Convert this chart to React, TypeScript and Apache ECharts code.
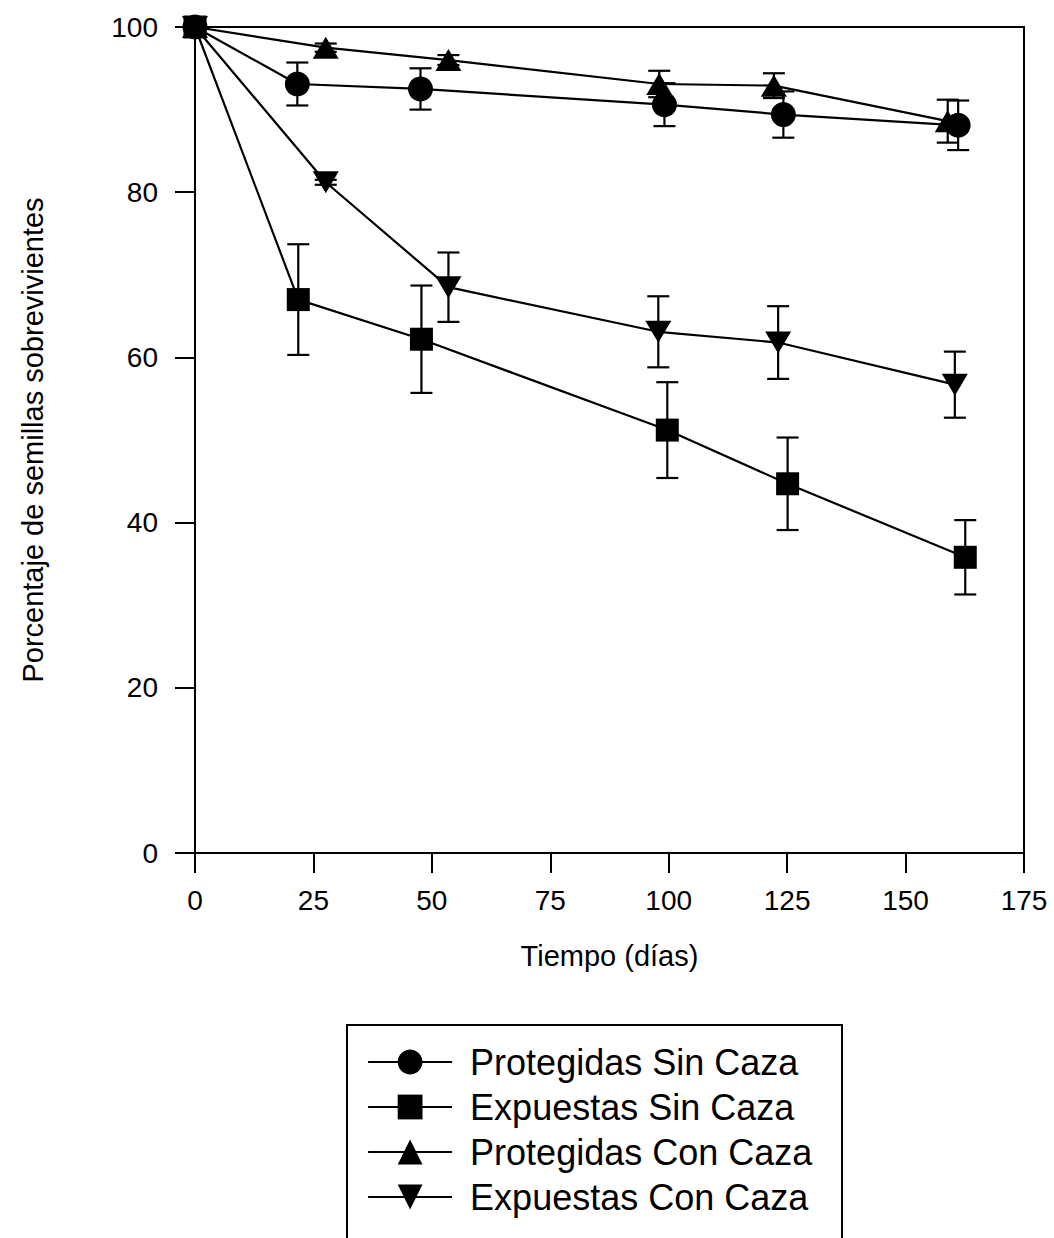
import React, { useEffect, useRef } from "react";
import * as echarts from "echarts";

const seriesNames = [
  "Protegidas Sin Caza",
  "Expuestas Sin Caza",
  "Protegidas Con Caza",
  "Expuestas Con Caza",
];

// Days (x) per series (points are slightly offset in the original)
const xProtSin = [0, 21.6, 47.6, 99.1, 124.2, 161.1];
const xExpSin = [0, 21.8, 47.8, 99.7, 125.1, 162.6];
const xProtCon = [0, 27.6, 53.5, 98.0, 122.2, 158.9];
const xExpCon = [0, 27.6, 53.5, 97.8, 123.1, 160.4];

// Mean % surviving seeds
const yProtSin = [100, 93.1, 92.5, 90.6, 89.4, 88.1];
const yExpSin = [100, 67.0, 62.2, 51.2, 44.7, 35.8];
const yProtCon = [100, 97.5, 96.0, 93.1, 92.9, 88.6];
const yExpCon = [100, 81.2, 68.5, 63.1, 61.8, 56.7];

// Error (± half range)
const eProtSin = [0, 2.6, 2.5, 2.6, 2.8, 3.0];
const eExpSin = [0, 6.7, 6.5, 5.8, 5.6, 4.5];
const eProtCon = [0, 0.5, 0.6, 1.6, 1.5, 2.6];
const eExpCon = [0, 0.3, 4.2, 4.3, 4.4, 4.0];

const xTicks = { min: 0, max: 175, interval: 25 };
const yTicks = { min: 0, max: 100, interval: 20 };

const FONT = "'Liberation Sans', Arial, sans-serif";

function pts(xs: number[], ys: number[]) {
  return xs.map((x, i) => [x, ys[i]]);
}
function errs(xs: number[], ys: number[], es: number[]) {
  return xs
    .map((x, i) => [x, ys[i] - es[i], ys[i] + es[i], es[i]])
    .filter((d) => d[3] > 0)
    .map((d) => [d[0], d[1], d[2]]);
}

function errorRender(params: any, api: any) {
  const x = api.value(0);
  const lo = api.coord([x, api.value(1)]);
  const hi = api.coord([x, api.value(2)]);
  const cap = 11;
  const style = { stroke: "#000", lineWidth: 2.2 };
  return {
    type: "group",
    children: [
      { type: "line", shape: { x1: lo[0], y1: lo[1], x2: hi[0], y2: hi[1] }, style },
      { type: "line", shape: { x1: lo[0] - cap, y1: lo[1], x2: lo[0] + cap, y2: lo[1] }, style },
      { type: "line", shape: { x1: hi[0] - cap, y1: hi[1], x2: hi[0] + cap, y2: hi[1] }, style },
    ],
  };
}

export default function App() {
  const ref = useRef<HTMLDivElement>(null);
  useEffect(() => {
    document.body.style.margin = "0";
    const chart = echarts.init(ref.current!, undefined, { renderer: "svg" });
    const lineSeries = (
      name: string,
      data: number[][],
      symbol: string,
      size: number | number[],
      rotate = 0
    ) => ({
      name,
      type: "line",
      data,
      symbol,
      symbolSize: size,
      symbolRotate: rotate,
      lineStyle: { color: "#000", width: 2.2 },
      itemStyle: { color: "#000" },
      z: 3,
    });
    const errSeries = (name: string, data: number[][]) => ({
      name,
      type: "custom",
      renderItem: errorRender,
      data,
      z: 2,
      encode: { x: 0, y: [1, 2] },
    });
    chart.setOption({
      animation: false,
      backgroundColor: "#fff",
      grid: {
        left: 195,
        right: 30,
        top: 27,
        bottom: 385,
        show: true,
        borderColor: "#000",
        borderWidth: 2,
        containLabel: false,
      },
      xAxis: {
        type: "value",
        ...xTicks,
        name: "Tiempo (días)",
        nameLocation: "middle",
        nameGap: 88,
        nameTextStyle: { color: "#000", fontSize: 29, fontFamily: FONT },
        axisLine: { lineStyle: { color: "#000", width: 2 } },
        axisTick: { length: 20, lineStyle: { color: "#000", width: 2 } },
        axisLabel: { color: "#000", fontSize: 28, fontFamily: FONT, margin: 33 },
        splitLine: { show: false },
      },
      yAxis: {
        type: "value",
        ...yTicks,
        name: "Porcentaje de semillas sobrevivientes",
        nameLocation: "middle",
        nameGap: 148,
        nameTextStyle: { color: "#000", fontSize: 29, fontFamily: FONT },
        axisLine: { lineStyle: { color: "#000", width: 2 } },
        axisTick: { length: 20, lineStyle: { color: "#000", width: 2 } },
        axisLabel: { color: "#000", fontSize: 28, fontFamily: FONT, margin: 37 },
        splitLine: { show: false },
      },
      legend: {
        orient: "vertical",
        left: 367,
        top: 1044,
        padding: 0,
        itemWidth: 84,
        itemHeight: 31,
        itemGap: 9,
        data: seriesNames,
        textStyle: { color: "#000", fontSize: 36, fontFamily: FONT, padding: [0, 0, 0, 13] },
        lineStyle: { width: 2.2 },
      },
      graphic: [
        {
          type: "rect",
          shape: { x: 347, y: 1025, width: 495, height: 240 },
          style: { fill: "none", stroke: "#000", lineWidth: 2 },
        },
      ],
      series: [
        errSeries("e1", errs(xProtSin, yProtSin, eProtSin)),
        errSeries("e2", errs(xExpSin, yExpSin, eExpSin)),
        errSeries("e3", errs(xProtCon, yProtCon, eProtCon)),
        errSeries("e4", errs(xExpCon, yExpCon, eExpCon)),
        lineSeries(seriesNames[0], pts(xProtSin, yProtSin), "circle", 25),
        lineSeries(seriesNames[1], pts(xExpSin, yExpSin), "rect", 23),
        lineSeries(seriesNames[2], pts(xProtCon, yProtCon), "triangle", [26, 22]),
        lineSeries(seriesNames[3], pts(xExpCon, yExpCon), "triangle", [26, 22], 180),
      ],
    });
    return () => chart.dispose();
  }, []);
  return (
    <div
      ref={ref}
      style={{ position: "absolute", left: 0, top: 0, width: 1054, height: 1238 }}
    />
  );
}
